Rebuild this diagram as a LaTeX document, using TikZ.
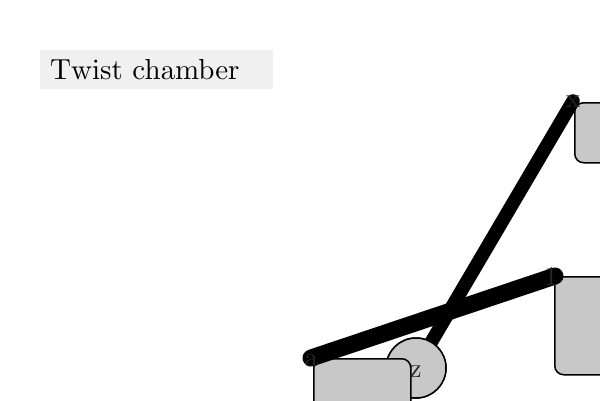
\documentclass[tikz,border=0pt]{standalone}
\definecolor{boxgray}{RGB}{200,200,200}
\definecolor{titlegray}{RGB}{240,240,240}
\font\titlefont=cmr10 at 29pt
\font\labfont=cmr10 at 27pt
\begin{document}
\begin{tikzpicture}[x=1pt,y=-1pt,
  shapebox/.style={draw=black,line width=1.5pt,fill=boxgray,rounded corners=9pt,
    anchor=north west,inner sep=0pt},
  shapecirc/.style={circle,draw=black,line width=1.5pt,fill=boxgray,inner sep=0pt,
    minimum size=60pt},
  thickline/.style={line width=17pt,line cap=round},
  midline/.style={line width=13.5pt,line cap=round},
  lab/.style={font=\labfont,text=black!85,inner sep=0pt,anchor=base},
  titlebox/.style={fill=titlegray,anchor=north west,inner xsep=10pt,inner ysep=0pt,
    text width=213pt,align=left,text height=29.5pt,text depth=9.5pt,font=\titlefont}]
\useasboundingbox (0,0) rectangle (600,400);
% shapes under the connectors
\node[shapebox,minimum width=70pt,minimum height=60pt] (rx) at (574,102) {};
\node[shapebox,minimum width=70pt,minimum height=98pt] (r1) at (554,276) {};
% points
\coordinate (px) at (573,101);
\coordinate (pa) at (311,358);
\coordinate (p1) at (555,276);
\node[shapecirc] (zc) at (416,368) {};
% connector from z to x
\draw[midline] (zc.center) -- (px);
% circle again over the connector end
\node[shapecirc] (zc2) at (416,368) {};
\node[shapebox,minimum width=97pt,minimum height=60pt] (ra) at (313,358) {};
% connector from a to 1
\draw[thickline] (pa) -- (p1);
% labels
\node[lab] (lx) at (573,107) {x};
\node[lab] (l1) at (551,285) {1};
\node[lab] (la) at (311,366) {a};
\node[lab] (lz) at (415.5,377) {z};
% title
\node[titlebox] (title) at (40,50) {Twist chamber};
\end{tikzpicture}
\end{document}
